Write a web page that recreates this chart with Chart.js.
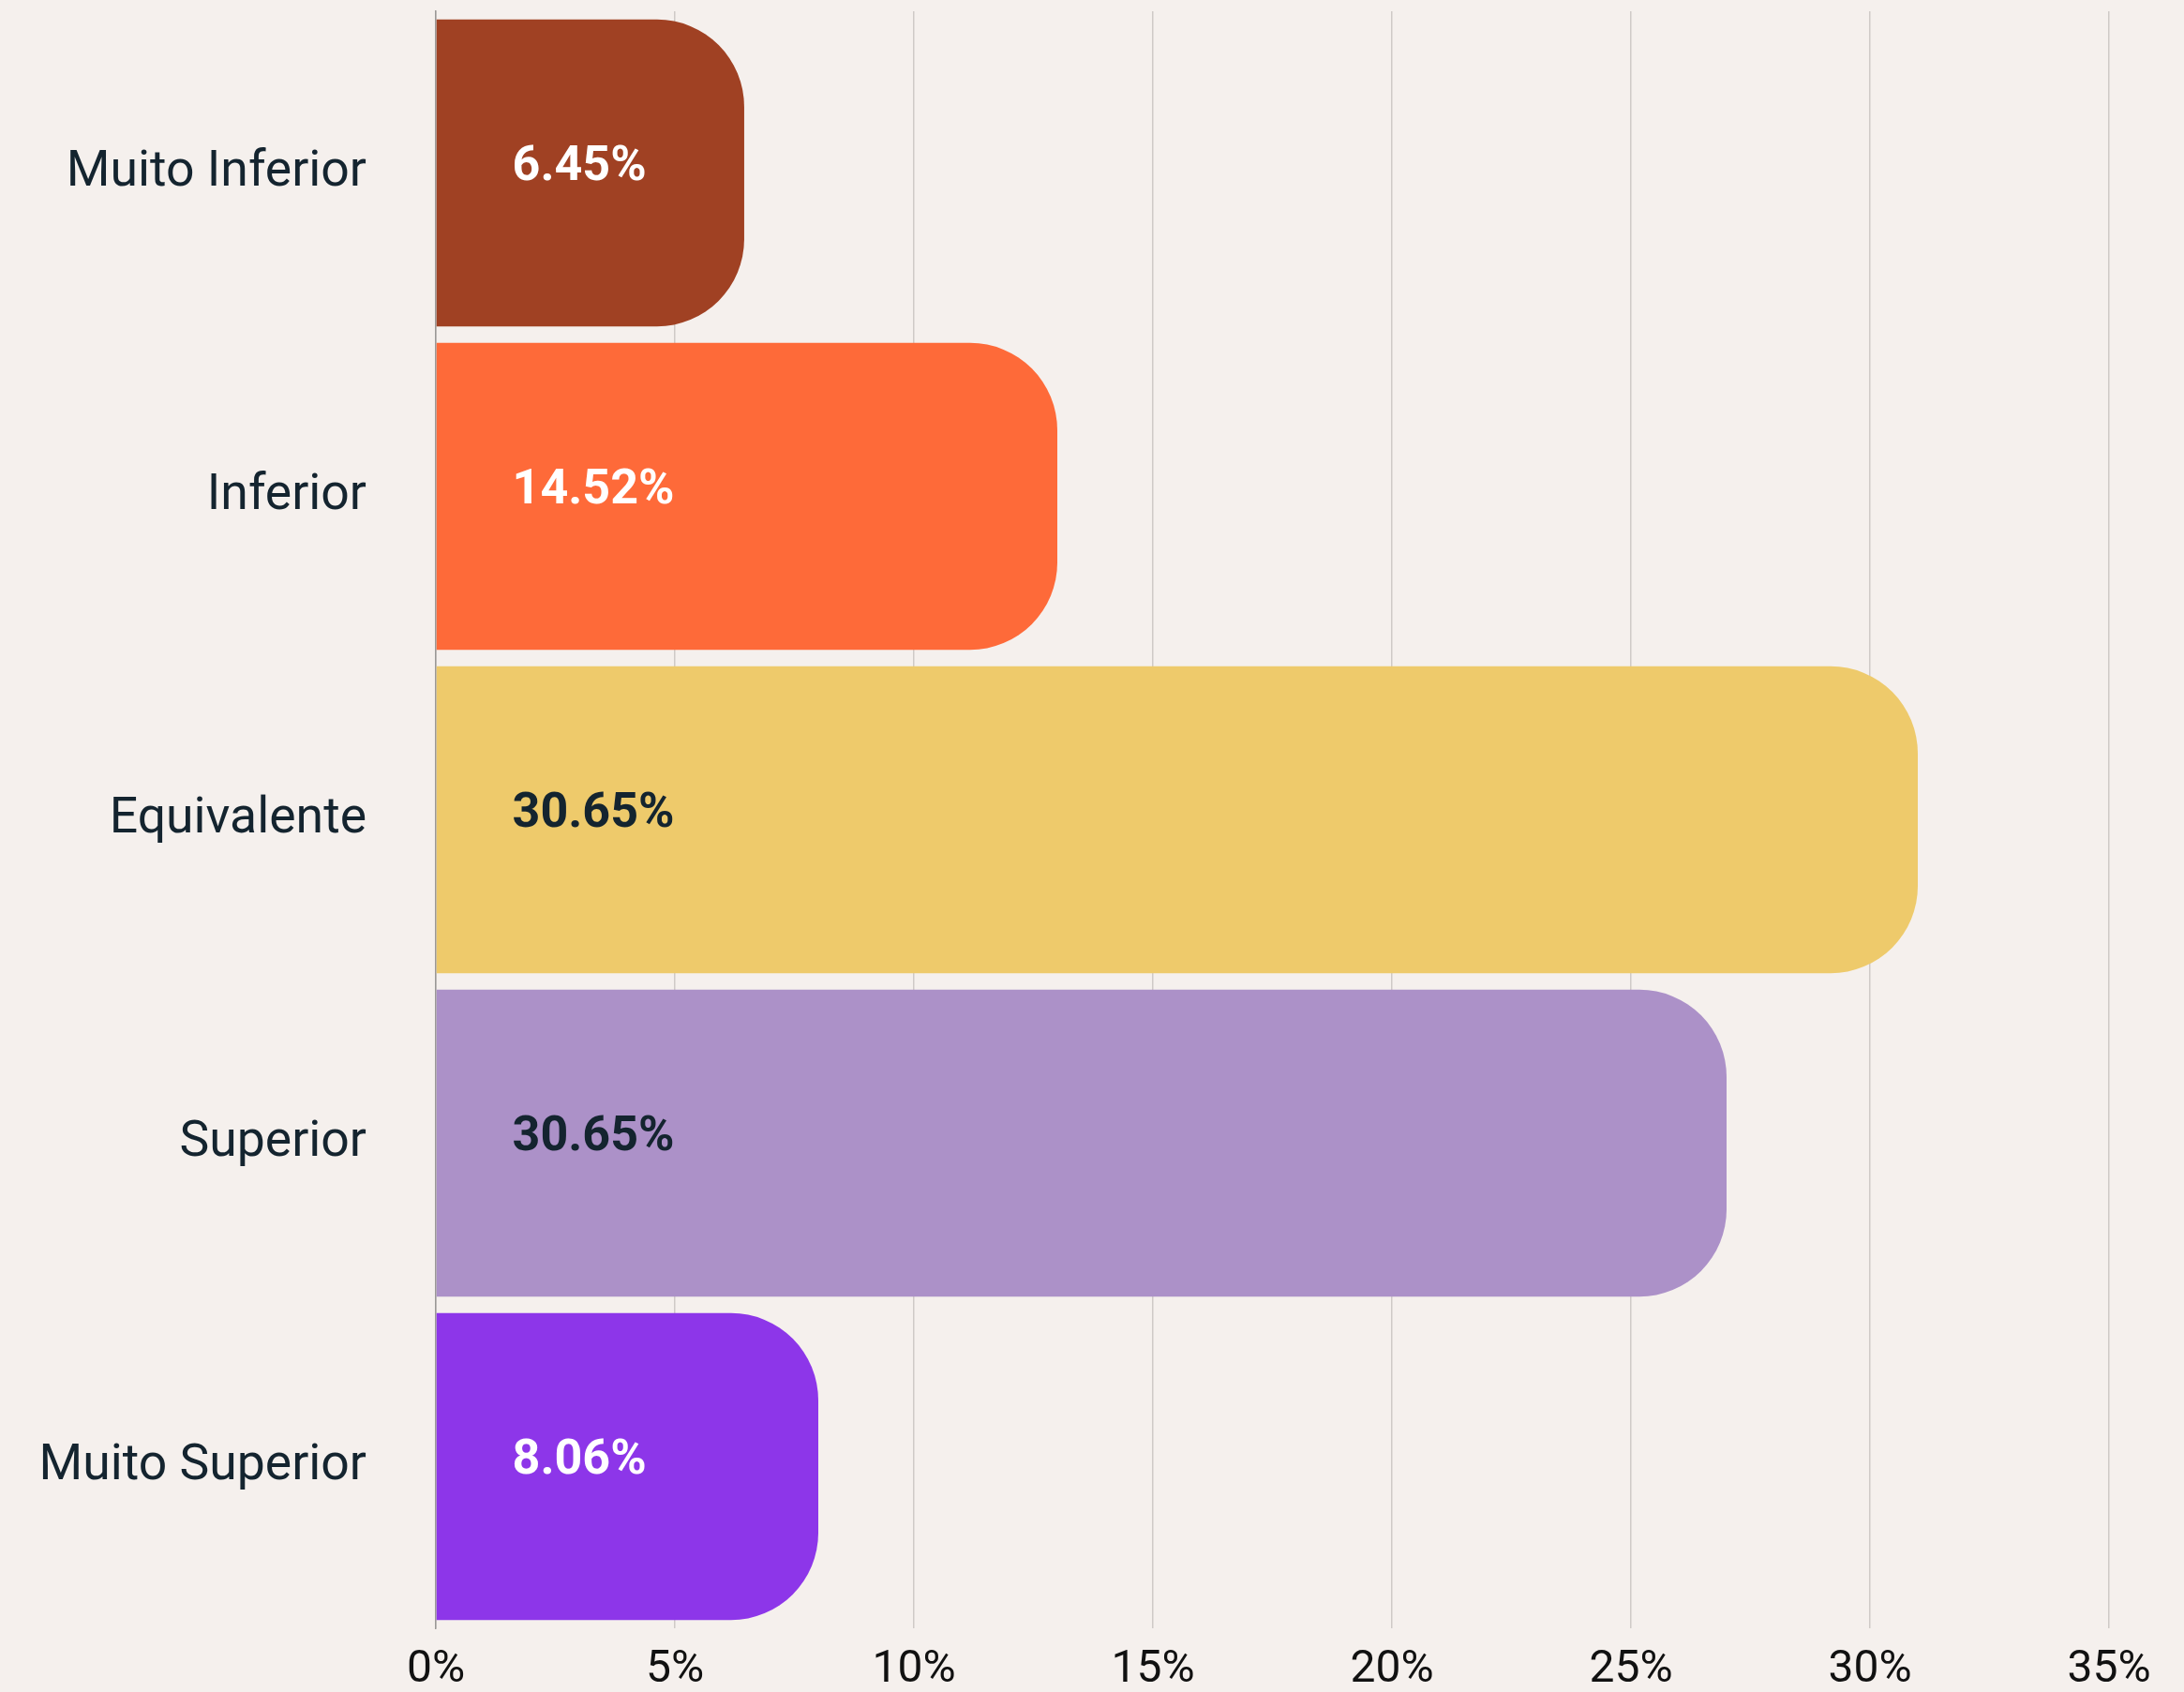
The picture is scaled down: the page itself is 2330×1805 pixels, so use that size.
<!DOCTYPE html>
<html>
<head>
<meta charset="utf-8">
<script src="https://cdn.jsdelivr.net/npm/chart.js@4"></script>
<style>
  html, body { margin: 0; padding: 0; background: #F5F0ED; }
  #wrap { width: 2330px; height: 1805px; position: relative; }
</style>
</head>
<body>
<div id="wrap"><canvas id="chart"></canvas></div>
<script>
  // categories and values
  var categories = ['Muito Inferior', 'Inferior', 'Equivalente', 'Superior', 'Muito Superior'];
  var barValues = [6.45, 13.0, 31.0, 27.0, 8.0];
  var valueLabels = ['6.45%', '14.52%', '30.65%', '30.65%', '8.06%'];
  var xTicks = [0, 5, 10, 15, 20, 25, 30, 35];

  var barColors = ['#A04123', '#FE6A39', '#EECA6B', '#AC91C8', '#8D36E9'];
  var labelColors = ['#FFFFFF', '#FFFFFF', '#14242F', '#14242F', '#FFFFFF'];

  // draws the % text inside each bar
  var valueLabelPlugin = {
    id: 'valueLabels',
    afterDatasetsDraw: function (chart) {
      var ctx = chart.ctx;
      var meta = chart.getDatasetMeta(0);
      var xScale = chart.scales.x;
      var x = xScale.getPixelForValue(1.6);
      ctx.save();
      ctx.font = 'bold 52px Roboto';
      ctx.textAlign = 'left';
      ctx.textBaseline = 'middle';
      meta.data.forEach(function (bar, i) {
        ctx.fillStyle = labelColors[i];
        ctx.fillText(valueLabels[i], x, bar.y - 6);
      });
      ctx.restore();
    }
  };

  new Chart(document.getElementById('chart'), {
    type: 'bar',
    data: {
      labels: categories,
      datasets: [{
        data: barValues,
        backgroundColor: barColors,
        borderWidth: 0,
        borderRadius: 93,
        categoryPercentage: 1,
        barPercentage: 0.949
      }]
    },
    options: {
      indexAxis: 'y',
      responsive: true,
      maintainAspectRatio: false,
      animation: false,
      devicePixelRatio: 1,
      layout: { padding: { top: 12, right: 80, left: 0, bottom: 0 } },
      plugins: {
        legend: { display: false },
        tooltip: { enabled: false }
      },
      scales: {
        x: {
          type: 'linear',
          min: 0,
          max: 35,
          afterBuildTicks: function (axis) {
            axis.ticks = xTicks.map(function (v) { return { value: v }; });
          },
          afterFit: function (axis) { axis.height = 68; },
          grid: { color: '#CFCAC7', lineWidth: 1.5, drawTicks: false },
          border: { display: false },
          ticks: {
            padding: 16,
            maxRotation: 0,
            minRotation: 0,
            color: '#111111',
            font: { family: 'Roboto', size: 48 },
            callback: function (v) { return v + '%'; }
          }
        },
        y: {
          grid: { display: false, drawTicks: false },
          border: { display: true, color: '#9A9896', width: 1.5 },
          afterFit: function (axis) {
            axis.width = 465;
            axis.paddingTop = 0;
            axis.paddingBottom = 0;
          },
          ticks: {
            padding: 74,
            color: '#14242F',
            font: { family: 'Roboto', size: 53.5 }
          }
        }
      }
    },
    plugins: [valueLabelPlugin]
  });
</script>
</body>
</html>
